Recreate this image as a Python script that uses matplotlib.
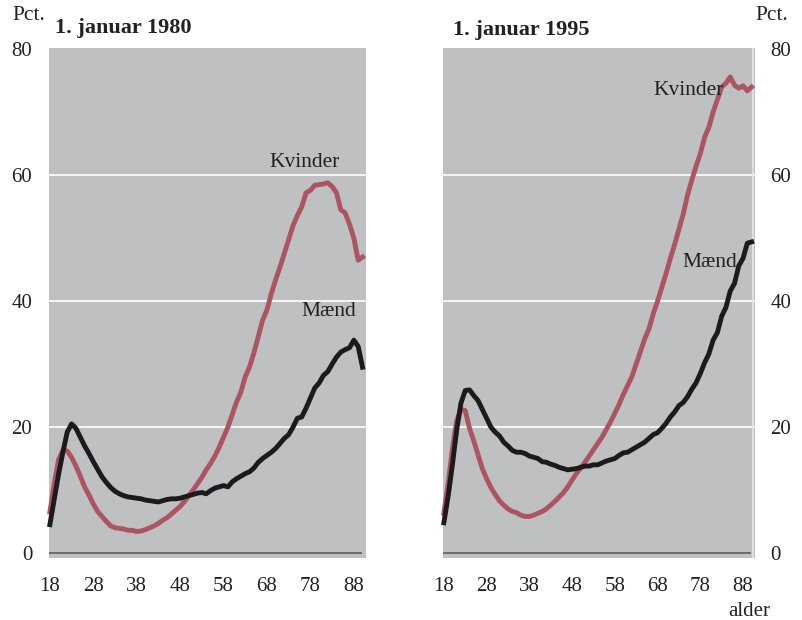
import matplotlib
matplotlib.use("Agg")
import matplotlib.pyplot as plt
import numpy as np

plt.rcParams['font.family'] = ['Liberation Serif', 'DejaVu Serif']

ages = list(range(18, 91))

# 1. januar 1980
maend_1980 = [4.5, 8.5, 12.5, 16.0, 19.2, 20.5, 19.8, 18.4, 17.0, 15.8,
              14.5, 13.3, 12.1, 11.2, 10.4, 9.8, 9.4, 9.1, 8.9, 8.8,
              8.7, 8.6, 8.4, 8.3, 8.2, 8.1, 8.3, 8.5, 8.6, 8.6,
              8.7, 8.9, 9.1, 9.3, 9.5, 9.6, 9.4, 9.9, 10.3, 10.5,
              10.7, 10.5, 11.3, 11.8, 12.2, 12.6, 12.9, 13.5, 14.4, 15.0,
              15.5, 16.0, 16.6, 17.4, 18.2, 18.8, 20.0, 21.4, 21.6, 23.0,
              24.6, 26.2, 27.0, 28.2, 28.8, 30.0, 31.1, 31.9, 32.3, 32.6,
              33.8, 32.8, 29.5]
kvinder_1980 = [6.5, 11.0, 14.8, 16.3, 16.2, 15.2, 13.8, 12.2, 10.5, 9.2,
                7.8, 6.6, 5.8, 5.0, 4.3, 4.0, 3.9, 3.8, 3.6, 3.6,
                3.4, 3.5, 3.7, 4.0, 4.3, 4.7, 5.2, 5.6, 6.2, 6.8,
                7.4, 8.2, 9.1, 10.0, 11.0, 12.0, 13.2, 14.2, 15.4, 16.8,
                18.4, 20.0, 22.0, 24.0, 25.6, 28.0, 29.6, 31.8, 34.4, 37.0,
                38.6, 41.2, 43.4, 45.4, 47.6, 49.8, 52.0, 53.6, 55.0, 57.2,
                57.6, 58.4, 58.5, 58.6, 58.8, 58.2, 57.2, 54.5, 54.0, 52.2,
                50.0, 46.5, 47.0]

# 1. januar 1995
maend_1995 = [4.8, 9.0, 14.0, 19.5, 23.8, 25.8, 25.9, 25.0, 24.2, 22.8,
              21.4, 20.0, 19.2, 18.6, 17.6, 17.0, 16.3, 16.0, 16.0, 15.8,
              15.4, 15.2, 15.0, 14.5, 14.4, 14.1, 13.9, 13.6, 13.4, 13.2,
              13.3, 13.4, 13.6, 13.8, 13.8, 14.0, 14.0, 14.3, 14.6, 14.8,
              15.0, 15.5, 15.9, 16.0, 16.4, 16.8, 17.2, 17.6, 18.2, 18.8,
              19.1, 19.8, 20.6, 21.6, 22.4, 23.4, 23.9, 24.8, 26.0, 27.0,
              28.5, 30.2, 31.6, 33.8, 35.0, 37.6, 39.0, 41.6, 42.8, 45.6,
              46.8, 49.2, 49.4]
kvinder_1995 = [6.3, 11.0, 16.5, 21.0, 22.8, 22.6, 19.8, 17.8, 15.6, 13.4,
                11.8, 10.4, 9.3, 8.3, 7.6, 7.0, 6.6, 6.4, 6.0, 5.8,
                5.8, 6.0, 6.3, 6.6, 7.0, 7.6, 8.2, 8.9, 9.6, 10.5,
                11.6, 12.6, 13.5, 14.4, 15.4, 16.4, 17.4, 18.4, 19.6, 20.8,
                22.2, 23.6, 25.2, 26.6, 28.0, 30.0, 32.0, 34.0, 35.6, 38.0,
                40.0, 42.2, 44.4, 46.8, 49.0, 51.4, 53.8, 56.8, 59.2, 61.4,
                63.4, 66.0, 67.6, 70.0, 72.0, 74.0, 74.6, 75.6, 74.3, 73.8,
                74.2, 73.4, 74.0]

xticks = [18, 28, 38, 48, 58, 68, 78, 88]
yticks = [0, 20, 40, 60, 80]

GRAY = '#bfc0c2'
RED = '#ac5461'
BLACK = '#1c1a1b'

fig = plt.figure(figsize=(8.02, 6.2), dpi=100)
ax1 = fig.add_axes([49/802, 1-558/620, 317/802, 510/620])
ax2 = fig.add_axes([443/802, 1-558/620, 312/802, 510/620])

panels = [(ax1, maend_1980, kvinder_1980, (76.7, 62.0), (82.2, 38.3)),
          (ax2, maend_1995, kvinder_1995, (75.2, 73.4), (80.3, 46.2))]

for ax, m, k, kpos, mpos in panels:
    ax.set_facecolor(GRAY)
    for s in ax.spines.values():
        s.set_visible(False)
    for y in [20, 40, 60]:
        ax.axhline(y, color='white', lw=1.2, zorder=1)
    ax.axhline(0, color='#6b6b6b', lw=1.4, zorder=1, xmax=0.985)
    ax.plot(ages, k, color=RED, lw=3.5, zorder=3, clip_on=False, solid_joinstyle='round')
    ax.plot(ages, m, color=BLACK, lw=3.5, zorder=3, clip_on=False, solid_joinstyle='round')
    ax.set_xlim(17.8, 90.8)
    ax.set_ylim(-0.8, 80.2)
    ax.set_xticks(xticks)
    ax.set_yticks(yticks)
    ax.tick_params(length=0, labelsize=15, colors='#222222')
    ax.tick_params(axis='x', pad=14)
    ax.text(kpos[0], kpos[1], 'Kvinder', fontsize=15.5, ha='center', va='center', color='#222222', zorder=4)
    ax.text(mpos[0], mpos[1], 'Mænd', fontsize=15.5, ha='center', va='center', color='#222222', zorder=4)

ax1.tick_params(axis='y', pad=12)
ax2.yaxis.tick_right()
ax2.tick_params(axis='y', pad=11)
ax2.axvline(90.4, color='#e6e6e6', lw=1.2, zorder=2)

fig.text(55/802, 1-28/620, '1. januar 1980', fontsize=16, fontweight='bold', va='center', ha='left', color='#222222')
fig.text(453/802, 1-30/620, '1. januar 1995', fontsize=16, fontweight='bold', va='center', ha='left', color='#222222')
fig.text(12/802, 1-15/620, 'Pct.', fontsize=15.5, va='center', ha='left', color='#222222')
fig.text(755/802, 1-15/620, 'Pct.', fontsize=15.5, va='center', ha='left', color='#222222')
fig.text(749/802, 1-612/620, 'alder', fontsize=15, va='center', ha='center', color='#222222')

fig.savefig('out.png', dpi=100)
